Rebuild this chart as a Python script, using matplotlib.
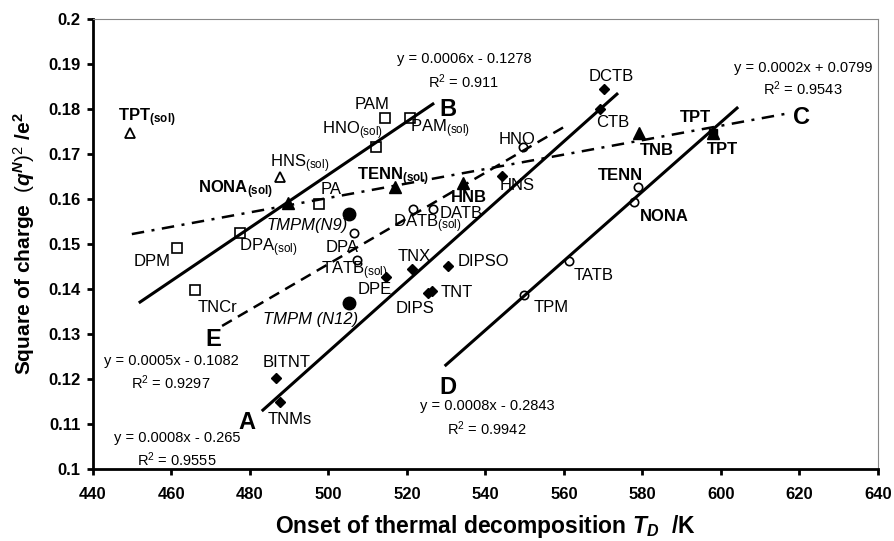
import matplotlib
matplotlib.use("Agg")
import matplotlib.pyplot as plt
from matplotlib.ticker import FormatStrFormatter

plt.rcParams["font.family"] = "Liberation Sans"
plt.rcParams["mathtext.fontset"] = "custom"
plt.rcParams["mathtext.rm"] = "Liberation Sans"
plt.rcParams["mathtext.it"] = "Liberation Sans:italic:bold"
plt.rcParams["mathtext.bf"] = "Liberation Sans:bold"

# --- data (T_D in K, (q^N)^2/e^2) ---
# open squares
sq_names = ["PAM", "HNO(sol)", "PAM(sol)", "PA", "DPA(sol)", "DPM", "TNCr"]
sq_td = [514.4, 512.1, 520.8, 497.6, 477.5, 461.4, 466.0]
sq_q = [0.1780, 0.1716, 0.1780, 0.1589, 0.1524, 0.1491, 0.1398]

# open triangles
otri_names = ["TPT(sol)", "HNS(sol)"]
otri_td = [449.4, 487.6]
otri_q = [0.1747, 0.1649]

# filled triangles
ftri_names = ["NONA(sol)", "TENN(sol)", "HNB", "TNB", "TPT"]
ftri_td = [489.7, 516.9, 534.3, 579.1, 598.0]
ftri_q = [0.1591, 0.1627, 0.1636, 0.1747, 0.1747]

# filled square
fsq_names = ["TPT"]
fsq_td = [598.0]
fsq_q = [0.1747]

# filled diamonds
dia_names = ["DCTB", "CTB", "HNS", "TNX", "DIPSO", "TNT", "DIPS", "DPE", "BITNT", "TNMs"]
dia_td = [570.2, 569.2, 544.2, 521.3, 530.4, 526.3, 525.4, 514.6, 486.6, 487.6]
dia_q = [0.1844, 0.1800, 0.1651, 0.1444, 0.1451, 0.1396, 0.1391, 0.1427, 0.1202, 0.1149]

# filled circles
fcir_names = ["TMPM(N9)", "TMPM (N12)"]
fcir_td = [505.2, 505.2]
fcir_q = [0.1567, 0.1369]

# open circles
ocir_names = ["DPA", "TATB(sol)", "DATB(sol)", "DATB", "HNO", "TENN", "NONA", "TATB", "TPM"]
ocir_td = [506.5, 507.3, 521.5, 526.6, 549.6, 578.9, 577.8, 561.3, 549.8]
ocir_q = [0.1524, 0.1464, 0.1578, 0.1578, 0.1716, 0.1627, 0.1593, 0.1462, 0.1387]

# fitted lines (end points) and their equations
fit_names = ["A", "B", "C", "D", "E"]
fit_td = [(483.3, 573.5), (452.0, 526.6), (449.9, 617.6), (529.9, 604.1), (472.9, 560.8)]
fit_q = [(0.1131, 0.1833), (0.1371, 0.1811), (0.1522, 0.1791), (0.1231, 0.1802), (0.1318, 0.1764)]
fit_eq = ["y = 0.0008x - 0.265", "y = 0.0006x - 0.1278", "y = 0.0002x + 0.0799",
          "y = 0.0008x - 0.2843", "y = 0.0005x - 0.1082"]
fit_r2 = ["0.9555", "0.911", "0.9543", "0.9942", "0.9297"]

x_ticks = list(range(440, 641, 20))
y_ticks = [0.1, 0.11, 0.12, 0.13, 0.14, 0.15, 0.16, 0.17, 0.18, 0.19, 0.2]


def label_text(name, bold):
    if name.endswith("(sol)"):
        base = name[:-5]
        if bold:
            return r"$\mathbf{%s}_{\mathbf{(sol)}}$" % base
        return r"%s$_{\rm (sol)}$" % base
    return name


fig = plt.figure(figsize=(8.94, 5.41), dpi=100)
ax = fig.add_axes([0.104, 0.133, 0.878, 0.832])

line_styles = {
    "A": dict(ls="-", lw=2.2),
    "B": dict(ls="-", lw=2.2),
    "C": dict(ls=(0, (5, 3, 1.2, 3)), lw=1.8),
    "D": dict(ls="-", lw=2.2),
    "E": dict(ls=(0, (4.5, 2.8)), lw=1.8),
}
for name, xs, ys in zip(fit_names, fit_td, fit_q):
    ax.plot(xs, ys, color="black", zorder=2, **line_styles[name])

mk = dict(ls="none", color="black", zorder=3)
ax.plot(sq_td, sq_q, marker="s", ms=6.5, mfc="none", mew=1.2, **mk)
ax.plot(otri_td, otri_q, marker="^", ms=7.5, mfc="none", mew=1.3, **mk)
ax.plot(ftri_td, ftri_q, marker="^", ms=8, **mk)
ax.plot(fsq_td, fsq_q, marker="s", ms=6, **mk)
ax.plot(dia_td, dia_q, marker="D", ms=5.5, **mk)
ax.plot(fcir_td, fcir_q, marker="o", ms=9, **mk)
ax.plot(ocir_td, ocir_q, marker="o", ms=6, mfc="none", mew=1.2, **mk)

# point labels: (name, x, y, style)
labels = [
    ("TPT(sol)", 453.8, 0.1780, "bold"), ("PAM", 511.1, 0.1811, ""),
    ("HNO(sol)", 506.2, 0.1752, ""), ("HNS(sol)", 492.7, 0.1679, ""),
    ("NONA(sol)", 476.4, 0.1621, "bold"), ("PA", 500.6, 0.1622, ""),
    ("TMPM(N9)", 494.5, 0.1542, "italic"), ("DPA(sol)", 484.6, 0.1492, ""),
    ("DPA", 503.4, 0.1493, ""), ("DPM", 455.0, 0.1462, ""),
    ("TENN(sol)", 516.4, 0.1650, "bold"), ("PAM(sol)", 528.4, 0.1756, ""),
    ("HNO", 548.0, 0.1733, ""), ("DCTB", 572.0, 0.1871, ""),
    ("CTB", 572.5, 0.1771, ""), ("TNB", 583.7, 0.1707, "bold"),
    ("HNB", 535.8, 0.1604, "bold"), ("HNS", 548.0, 0.1629, ""),
    ("TENN", 574.3, 0.1653, "bold"), ("NONA", 585.5, 0.1560, "bold"),
    ("DATB", 533.8, 0.1567, ""), ("DATB(sol)", 525.1, 0.1545, ""),
    ("TATB(sol)", 506.5, 0.1441, ""), ("DPE", 511.8, 0.1398, ""),
    ("TNCr", 471.8, 0.1360, ""), ("TMPM (N12)", 495.5, 0.1333, "italic"),
    ("BITNT", 489.4, 0.1236, ""), ("TNMs", 490.2, 0.1111, ""),
    ("TNX", 521.8, 0.1473, ""), ("DIPSO", 539.6, 0.1460, ""),
    ("TNT", 532.7, 0.1393, ""), ("DIPS", 522.0, 0.1356, ""),
    ("TATB", 567.6, 0.1429, ""), ("TPM", 556.7, 0.1360, ""),
    ("TPT", 593.4, 0.1780, "bold"), ("TPT", 600.5, 0.1711, "bold"),
]
for name, x, y, style in labels:
    bold = style == "bold"
    ax.text(x, y, label_text(name, bold), ha="center", va="center", fontsize=12,
            fontweight="bold" if bold else "normal",
            fontstyle="italic" if style == "italic" else "normal", zorder=4)

# line letters
letter_pos = {"A": (479.2, 0.1104), "B": (530.4, 0.1798), "C": (620.6, 0.1782),
              "D": (530.4, 0.1182), "E": (470.6, 0.1287)}
for name in fit_names:
    x, y = letter_pos[name]
    ax.text(x, y, name, ha="center", va="center", fontsize=17, fontweight="bold")

# equations
eq_pos = {"A": (461.4, 0.1069, 0.1020), "B": (534.5, 0.1911, 0.1860),
          "C": (620.9, 0.1891, 0.1844), "D": (540.4, 0.1140, 0.1089),
          "E": (459.9, 0.1240, 0.1191)}
for name, eq, r2 in zip(fit_names, fit_eq, fit_r2):
    x, y1, y2 = eq_pos[name]
    ax.text(x, y1, eq, ha="center", va="center", fontsize=10.5)
    ax.text(x, y2, r"R$^2$ = " + r2, ha="center", va="center", fontsize=10.5)

ax.set_xlim(440, 640)
ax.set_ylim(0.1, 0.2)
ax.set_xticks(x_ticks)
ax.set_yticks(y_ticks)
ax.yaxis.set_major_formatter(FormatStrFormatter("%g"))
for lab in ax.get_xticklabels() + ax.get_yticklabels():
    lab.set_fontweight("bold")
ax.tick_params(axis="both", direction="out", length=4, width=2, labelsize=12)
ax.tick_params(axis="x", pad=9)
ax.tick_params(axis="y", pad=5)

for side in ["left", "bottom"]:
    ax.spines[side].set_linewidth(2)
for side in ["top", "right"]:
    ax.spines[side].set_linewidth(0.8)
    ax.spines[side].set_color("#888888")

ax.set_xlabel(r"Onset of thermal decomposition $T_{D}$  /K", fontsize=16.5,
              fontweight="bold", labelpad=8)
ax.set_ylabel(r"Square of charge  $\mathit{(q^{N})^{2}}$ /e$^{\mathbf{2}}$", fontsize=15,
              fontweight="bold", labelpad=8)

fig.savefig("out.png", dpi=100, facecolor="white")
